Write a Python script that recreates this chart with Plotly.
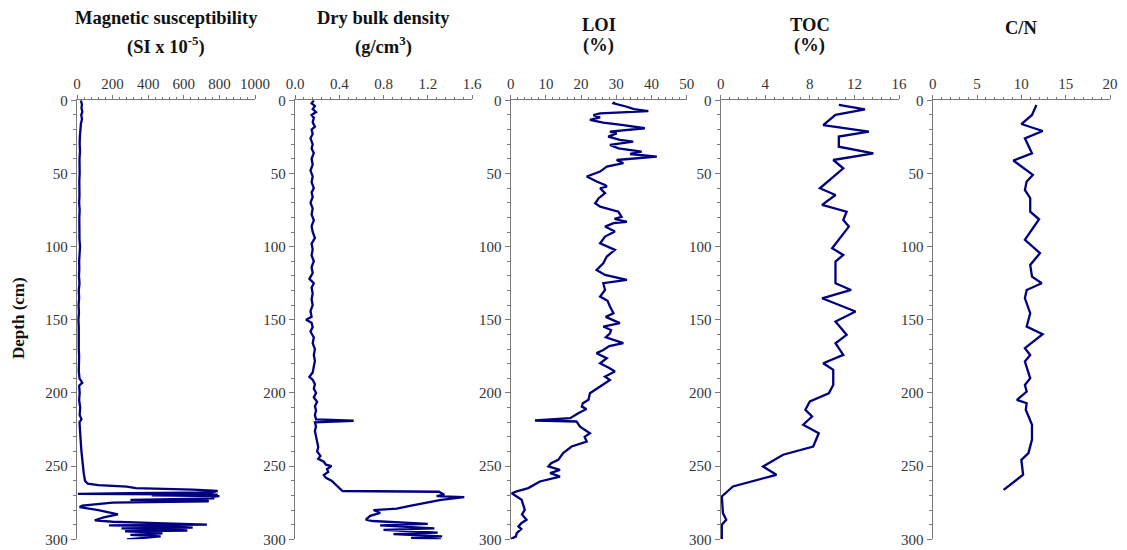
import plotly.graph_objects as go

# ---------------- data ----------------
mag_depth = [0, 3, 5, 8, 10, 13, 16, 20, 25, 30, 35, 40, 45, 50, 55, 60, 65, 70, 75, 80, 85, 90, 95, 100,
             105, 110, 115, 120, 125, 130, 135, 140, 145, 150, 155, 160, 165, 170, 175, 180, 185, 190, 193,
             195, 200, 205, 210, 215, 218, 220, 225, 230, 235, 240, 245, 250, 255, 260, 262, 263, 264, 265,
             266, 267, 268, 268.5, 269, 269.5, 270, 270.5, 271, 272, 273, 273.5, 274, 275, 276, 277, 278,
             280, 283, 285, 287, 288, 289, 290, 290.5, 291, 292, 292.5, 293, 294, 294.5, 295, 296, 297, 298,
             299, 300]
mag_val = [22, 28, 25, 30, 24, 28, 22, 18, 16, 15, 17, 14, 16, 15, 13, 15, 14, 12, 15, 13, 12, 15, 14, 17,
           14, 12, 13, 11, 14, 10, 12, 9, 11, 8, 10, 9, 11, 10, 12, 11, 10, 14, 30,
           12, 15, 12, 18, 15, 25, 14, 18, 20, 22, 25, 28, 35, 38, 45, 60, 120, 280, 330,
           650, 790, 760, 300, 5, 790, 420, 800, 760, 770, 300, 720, 740, 200, 120, 30, 15,
           120, 230, 150, 100, 200, 450, 730, 180, 500, 650, 250, 450, 620, 270, 400, 480, 300, 470,
           350, 280]

den_depth = [0, 2, 4, 6, 8, 10, 12, 15, 18, 20, 23, 26, 30, 33, 36, 40, 44, 48, 52, 56, 60, 63, 66, 70,
             74, 78, 82, 86, 90, 94, 98, 102, 106, 110, 114, 118, 122, 125, 128, 132, 136, 140, 144, 148,
             150, 152, 155, 158, 162, 166, 170, 174, 178, 182, 186, 189, 191, 194, 197, 200, 203, 206, 209,
             212, 215, 218, 219, 220, 223, 226, 230, 234, 237, 240, 243, 245, 247, 249, 250, 252, 254, 256,
             258, 260, 262, 264, 266, 267, 267.5, 269.5, 270.5, 271.2, 273, 275, 277, 279, 280, 282, 284,
             286.5, 287.5, 289.5, 290.5, 292.5, 293.5, 295.5, 296.5, 298, 299, 300]
den_val = [0.17, 0.15, 0.18, 0.16, 0.19, 0.15, 0.17, 0.16, 0.18, 0.15, 0.16, 0.14, 0.16, 0.15, 0.17, 0.15,
           0.16, 0.14, 0.16, 0.15, 0.17, 0.15, 0.16, 0.14, 0.16, 0.15, 0.17, 0.15, 0.16, 0.18, 0.15, 0.16,
           0.15, 0.17, 0.15, 0.16, 0.13, 0.17, 0.15, 0.16, 0.15, 0.16, 0.14, 0.15, 0.10, 0.15, 0.16, 0.14,
           0.17, 0.16, 0.18, 0.17, 0.18, 0.17, 0.16, 0.13, 0.16, 0.18, 0.17, 0.19, 0.17, 0.20, 0.18, 0.19,
           0.18, 0.19, 0.53, 0.18, 0.19, 0.18, 0.19, 0.20, 0.21, 0.20, 0.23, 0.21, 0.26, 0.28, 0.33, 0.29,
           0.30, 0.26, 0.28, 0.33, 0.36, 0.39, 0.41, 0.43, 1.30, 1.35, 1.28, 1.53, 1.32, 1.20, 1.05, 0.92,
           0.71, 0.77, 0.68, 0.64, 0.70, 1.20, 0.77, 1.26, 0.80, 1.29, 0.89, 1.33, 1.05, 1.32]

loi_depth = [1, 2.1, 4.4, 6, 7.4, 9, 10.1, 11.7, 13.4, 15.3, 16.9, 18, 19.1, 21.4, 22.6, 24.8, 27.1, 28.2,
             30.5, 32.8, 35.1, 36.7, 38.5, 40.8, 43, 45.3, 48.7, 52.1, 55.5, 57.8, 59, 60.1, 63.5, 66.9,
             70.4, 72.7, 76.1, 79.6, 81, 83, 84, 86.3, 89.7, 93.1, 97.7, 102.2, 106.8, 111.4, 115.9, 119.3,
             122.7, 125, 129.6, 134.1, 137, 140.9, 145.5, 148, 152.3, 154.6, 157, 159.2, 162, 166, 168,
             170.6, 172.8, 176.3, 179.7, 183, 185.3, 188.8, 191.1, 195.6, 200.2, 204.7, 207, 209.3, 211,
             213.8, 217.2, 218.8, 219.5, 223, 227.5, 230, 233.2, 236.6, 241.1, 245.7, 248, 250.2, 252.5,
             254.8, 257.1, 260.5, 263, 265, 267.3, 268.5, 273, 276, 279.8, 283, 286.7, 289, 291.2, 293,
             295.8, 298, 299.9]
loi_val = [29.5, 29.2, 33, 35, 39.1, 25.4, 23.5, 25.4, 22.5, 26.3, 32, 35, 38.1, 28.2, 30.1, 27.7, 31, 34.8,
           28.2, 30.6, 37.2, 33.9, 41.5, 30.1, 32, 27.3, 25.4, 21.6, 24.4, 26.8, 27.3, 25.4, 26.8, 25,
           24, 25.4, 30.6, 31.5, 29.5, 33, 29.2, 26.8, 29.6, 26.8, 25.4, 29.6, 27.3, 26.3, 24.4, 26.8,
           33, 26.3, 26.8, 25.4, 27.5, 28.2, 29.2, 27, 31, 26.3, 28.5, 28.2, 27, 32, 28,
           26.3, 24.4, 27.3, 25.4, 28, 29.6, 26.8, 28.2, 25.4, 22.5, 22.1, 20.5, 20.2, 21.5,
           19.2, 16.9, 6.9, 18.7, 19.7, 22.5, 21, 21.6, 17.3, 14.9, 13.5, 11.5, 10.7, 14,
           11.2, 14, 8.3, 6.5, 5, 1.7, 0.3, 3.1, 3.5, 4, 3.2, 4.5, 3, 2.2, 3,
           1.7, 1.5, 0]

toc_depth = [3.2, 6.2, 10, 16.9, 21.4, 24.8, 31.7, 36.2, 40.8, 46.5, 60.1, 64.7, 71.5, 76.1, 81.8, 86.3,
             101.1, 105.7, 110.2, 125, 129.6, 135.3, 144.3, 151.2, 160.3, 166, 174, 179.7, 184.2, 194.5,
             200.2, 205.8, 211.5, 216.1, 221.7, 227.5, 236.6, 242.2, 250.2, 255.9, 263.9, 270.7, 282.1,
             286.7, 290.1, 300]
toc_val = [10.6, 12.95, 10.3, 9.2, 13.3, 10.6, 10.6, 13.7, 10.1, 11, 8.9, 10.3, 9.1, 11.3, 11, 11.5,
           10, 11, 10.3, 10.3, 11.7, 9.1, 12.1, 10.3, 11.3, 10.3, 11, 9.2, 10.1, 10.1,
           9.7, 8, 7.6, 8.2, 7.4, 8.8, 8.3, 5.6, 3.8, 5, 1.1, 0.1, 0.2,
           0.5, 0.1, 0.1]

cn_depth = [3.2, 10, 16.2, 21, 26, 36.2, 41.2, 51, 55.5, 61.3, 66.9, 76.1, 81.3, 95.4, 104.5, 112.5, 120.5,
            125, 129.6, 135.3, 145.5, 154.6, 159.8, 169.4, 174, 178.5, 190, 194.5, 199, 204.7, 207, 211.5,
            221.7, 231.9, 241.1, 245.7, 255.9, 266.2]
cn_val = [11.7, 11.2, 10, 12.4, 10.4, 11.2, 9.1, 11.3, 10.6, 10.4, 11, 11, 12, 10.4, 12.1, 11, 11.2,
          12.3, 10.6, 10.4, 11, 10.6, 12.4, 10.4, 11, 10.4, 11, 10.4, 10.6, 9.5, 10.6, 10.5,
          11.2, 11.2, 10.8, 10, 10.2, 8]

titles_1 = ["Magnetic susceptibility", "Dry bulk density", "LOI", "TOC", "C/N"]
titles_2 = ["(SI x 10<sup>-5</sup>)", "(g/cm<sup>3</sup>)", "(%)", "(%)", ""]
x_max = [1000, 1.6, 50, 16, 20]
x_dtick = [200, 0.4, 10, 4, 5]
x_fmt = ["", ".1f", "", "", ""]
depth_title = "Depth (cm)"

# ---------------- layout ----------------
W, H = 1127, 550
px_dom = [(77, 255), (295, 472), (510.7, 686.7), (720.7, 899), (932.7, 1110)]
y_top_px, y_bot_px = 100.3, 539.3
ydom = [1 - y_bot_px / H, 1 - y_top_px / H]
title1_y = [18, 18, 25, 25, 28]
title2_y = 46

LINE = "#000080"
AX = "#7a7a7a"
FONT = "Liberation Serif"

fig = go.Figure()
series = [(mag_val, mag_depth), (den_val, den_depth), (loi_val, loi_depth), (toc_val, toc_depth), (cn_val, cn_depth)]
layout = dict(
    width=W, height=H, margin=dict(l=0, r=0, t=0, b=0, pad=0, autoexpand=False),
    plot_bgcolor="white", paper_bgcolor="white", showlegend=False,
    font=dict(family=FONT, color="#222222"),
)
annotations = []
for i, ((xv, yv), (a, b)) in enumerate(zip(series, px_dom)):
    n = "" if i == 0 else str(i + 1)
    fig.add_trace(go.Scatter(x=xv, y=yv, mode="lines", line=dict(color=LINE, width=2.3),
                             xaxis="x" + n, yaxis="y" + n, hoverinfo="skip"))
    layout["xaxis" + n] = dict(
        domain=[a / W, b / W], range=[0, x_max[i]], side="top", anchor="y" + n, automargin=False,
        tick0=0, dtick=x_dtick[i], tickformat=x_fmt[i], ticks="outside", ticklen=4, tickwidth=1,
        tickcolor=AX, showline=True, linecolor=AX, linewidth=1.4, showgrid=False, zeroline=False,
        tickfont=dict(family=FONT, size=15, color="#333333"),
        minor=dict(dtick=x_dtick[i] / 5, tick0=0, ticks="outside", ticklen=2, tickcolor=AX, showgrid=False),
        fixedrange=True,
    )
    layout["yaxis" + n] = dict(
        domain=ydom, range=[300, 0], anchor="x" + n, tick0=0, dtick=50, automargin=False,
        ticks="outside", ticklen=5, tickwidth=1, tickcolor=AX,
        showline=True, linecolor=AX, linewidth=1.4, showgrid=False, zeroline=False,
        tickfont=dict(family=FONT, size=15, color="#333333"),
        minor=dict(dtick=10, tick0=0, ticks="outside", ticklen=3, tickcolor=AX, showgrid=False),
        fixedrange=True,
    )
    cx = (a + b) / 2 / W
    annotations.append(dict(text="<b>%s</b>" % titles_1[i], x=cx, y=1 - title1_y[i] / H, xref="paper",
                            yref="paper", showarrow=False, xanchor="center", yanchor="middle",
                            font=dict(family=FONT, size=18.5, color="#111111")))
    if titles_2[i]:
        annotations.append(dict(text="<b>%s</b>" % titles_2[i], x=cx, y=1 - title2_y / H, xref="paper",
                                yref="paper", showarrow=False, xanchor="center", yanchor="middle",
                                font=dict(family=FONT, size=18.5, color="#111111")))

annotations.append(dict(text="<b>%s</b>" % depth_title, x=18 / W, y=1 - 318 / H, xref="paper", yref="paper",
                        showarrow=False, textangle=-90, xanchor="center", yanchor="middle",
                        font=dict(family=FONT, size=17, color="#111111")))
layout["annotations"] = annotations
fig.update_layout(**layout)
fig.write_html("out.html")
